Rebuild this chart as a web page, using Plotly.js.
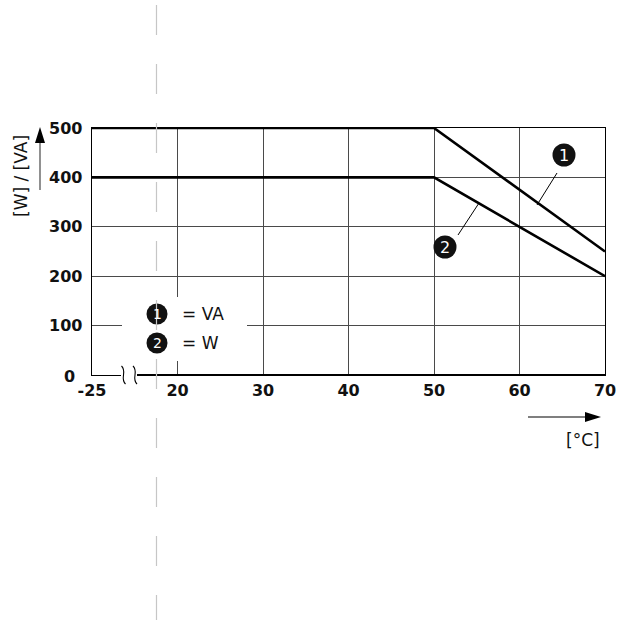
<!DOCTYPE html>
<html>
<head>
<meta charset="utf-8">
<script src="https://cdn.plot.ly/plotly-3.0.1.min.js"></script>
<style>html,body{margin:0;padding:0;background:#fff;}#chart{width:630px;height:620px;}</style>
</head>
<body>
<div id="chart"></div>
<script>
// ---- data ----
var tempC = [-25, 50, 70];          // ambient temperature [°C]
var powerVA = [500, 500, 250];      // curve 1 = VA
var powerW = [400, 400, 200];       // curve 2 = W
var xTickVals = [10, 20, 30, 40, 50, 60, 70];
var xTickText = ['-25', '20', '30', '40', '50', '60', '70'];
var yTickVals = [100, 200, 300, 400, 500];

// broken axis: everything below 20 °C is drawn at the left edge (-25)
function brokenAxis(t) { return t < 10 ? 10 : t; }
var xPos = tempC.map(brokenAxis);

// layout helpers (pixel -> paper)
var L = 92, T = 128, W = 513, H = 247;
function px(x) { return (x - L) / W; }
function py(y) { return (T + H - y) / H; }

var FONT = 'DejaVu Sans, Liberation Sans, Arial, sans-serif';

var traces = [
  {x: xPos, y: powerVA, mode: 'lines', line: {color: '#000', width: 2.6}, hoverinfo: 'skip', showlegend: false, cliponaxis: false},
  {x: xPos, y: powerW, mode: 'lines', line: {color: '#000', width: 2.6}, hoverinfo: 'skip', showlegend: false, cliponaxis: false}
];

function circle(cx, cy, r) {
  return {type: 'circle', xref: 'paper', yref: 'paper', x0: px(cx - r), x1: px(cx + r), y0: py(cy + r), y1: py(cy - r),
          fillcolor: '#111', line: {width: 0}, layer: 'above'};
}
function seg(x0, y0, x1, y1, color, width) {
  return {type: 'line', xref: 'paper', yref: 'paper', x0: px(x0), y0: py(y0), x1: px(x1), y1: py(y1),
          line: {color: color, width: width}, layer: 'above'};
}
function sCurve(cx) {
  var p = 'M ' + px(cx - 2) + ',' + py(366) + ' C ' + px(cx + 4) + ',' + py(372) + ' ' + px(cx - 4) + ',' + py(378) + ' ' + px(cx + 2) + ',' + py(384);
  return {type: 'path', xref: 'paper', yref: 'paper', path: p, line: {color: '#000', width: 1.1}, layer: 'above'};
}
function tri(p1, p2, p3) {
  var p = 'M ' + px(p1[0]) + ',' + py(p1[1]) + ' L ' + px(p2[0]) + ',' + py(p2[1]) + ' L ' + px(p3[0]) + ',' + py(p3[1]) + ' Z';
  return {type: 'path', xref: 'paper', yref: 'paper', path: p, fillcolor: '#000', line: {width: 0}, layer: 'above'};
}

var shapes = [
  // legend box background (interrupts grid)
  {type: 'rect', xref: 'paper', yref: 'paper', x0: px(122), x1: px(247), y0: py(361), y1: py(297), fillcolor: '#fff', line: {width: 0}, layer: 'above'},
  // axis break
  {type: 'rect', xref: 'paper', yref: 'paper', x0: px(121), x1: px(137), y0: py(379), y1: py(371), fillcolor: '#fff', line: {width: 0}, layer: 'above'},
  seg(137, 375, 605.5, 375, '#000', 2.2),
  sCurve(123.5), sCurve(135),
  // callouts
  seg(557, 173, 537, 205, '#000', 1),
  seg(458, 235, 479, 203, '#000', 1),
  circle(564, 155, 11.5),
  circle(445, 247, 11.5),
  // legend markers
  circle(157, 314, 10.5),
  circle(157, 343, 10.5),
  // y arrow
  seg(40, 190, 40, 142, '#555', 1.3),
  tri([40, 127], [35, 143], [45, 143]),
  // x arrow
  seg(528, 417, 585, 417, '#555', 1.3),
  tri([601, 417], [585, 412], [585, 422]),
  // page fold line
  {type: 'line', xref: 'paper', yref: 'paper', x0: px(156.5), x1: px(156.5), y0: py(5), y1: py(625),
   line: {color: '#c6c6c6', width: 1.2, dash: '30px,29px'}, layer: 'above'}
];

function txt(text, x, y, opts) {
  var a = {text: text, xref: 'paper', yref: 'paper', x: px(x), y: py(y), showarrow: false,
           xanchor: 'center', yanchor: 'middle', font: {family: FONT, size: 17, color: '#111'}};
  for (var k in opts) a[k] = opts[k];
  return a;
}

var annotations = [
  txt('1', 564, 155, {font: {family: FONT, size: 16, color: '#fff'}}),
  txt('2', 445, 247, {font: {family: FONT, size: 16, color: '#fff'}}),
  txt('1', 157, 314, {font: {family: FONT, size: 14, color: '#fff'}}),
  txt('2', 157, 343, {font: {family: FONT, size: 14, color: '#fff'}}),
  txt('= VA', 180, 314, {xanchor: 'left'}),
  txt('= W', 180, 343, {xanchor: 'left'}),
  txt('[W] / [VA]', 21, 176, {textangle: -90}),
  txt('[°C]', 583, 440, {}),
  {text: '0', xref: 'paper', yref: 'y', x: 0, y: 0, xanchor: 'right', yanchor: 'middle', xshift: -15, yshift: -1,
   showarrow: false, font: {family: FONT, size: 16, color: '#111', weight: 'bold'}}
];

var layout = {
  width: 630, height: 620,
  margin: {l: L, r: 630 - L - W, t: T, b: 620 - T - H, pad: 0},
  paper_bgcolor: '#fff', plot_bgcolor: '#fff',
  showlegend: false,
  xaxis: {
    range: [10, 70], tickmode: 'array', tickvals: xTickVals, ticktext: xTickText,
    showgrid: true, gridcolor: '#4a4a4a', gridwidth: 1, zeroline: false,
    showline: true, linecolor: '#000', linewidth: 1.3, mirror: true,
    ticks: '', ticklabelstandoff: 0,
    tickfont: {family: FONT, size: 16, color: '#111', weight: 'bold'}, fixedrange: true
  },
  yaxis: {
    range: [0, 500], tickmode: 'array', tickvals: yTickVals,
    showgrid: true, gridcolor: '#4a4a4a', gridwidth: 1, zeroline: false,
    showline: true, linecolor: '#000', linewidth: 1.3, mirror: true,
    ticks: '', ticklabelstandoff: 5,
    tickfont: {family: FONT, size: 16, color: '#111', weight: 'bold'}, fixedrange: true
  },
  shapes: shapes,
  annotations: annotations
};

Plotly.newPlot('chart', traces, layout, {displayModeBar: false, staticPlot: true});
</script>
</body>
</html>
